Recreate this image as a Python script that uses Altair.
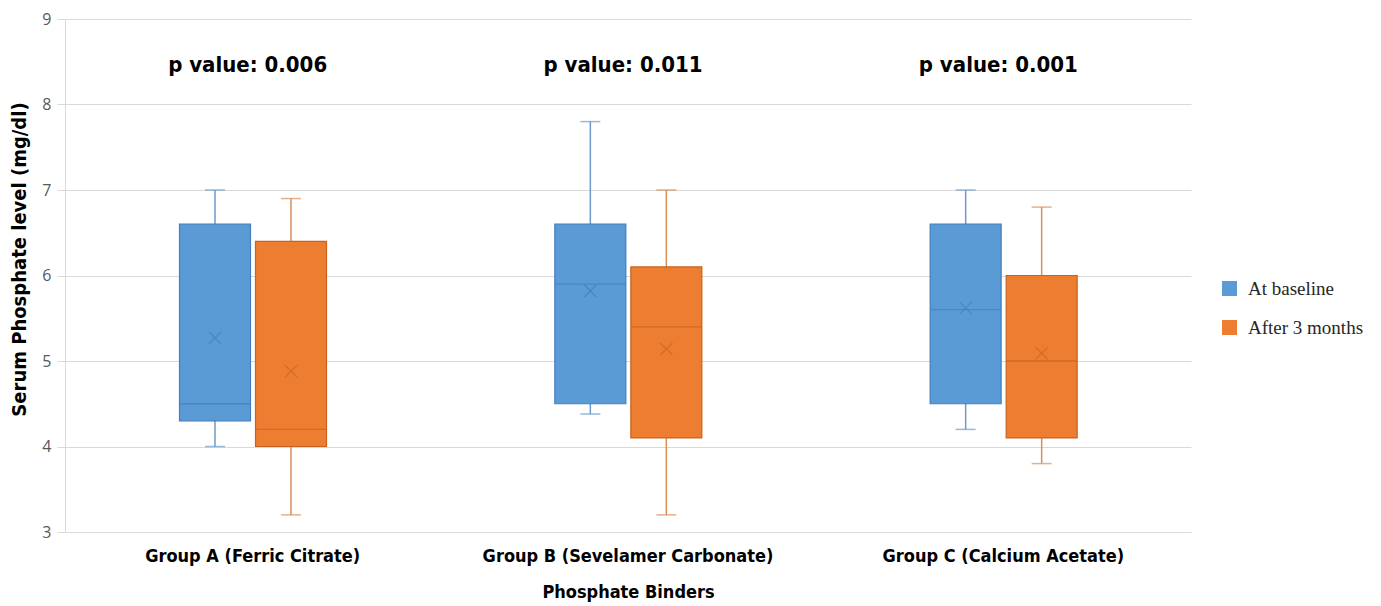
import altair as alt
import pandas as pd

groups = ["Group A (Ferric Citrate)", "Group B (Sevelamer Carbonate)", "Group C (Calcium Acetate)"]
series = ["At baseline", "After 3 months"]

low_base = [4.0, 4.38, 4.2]
q1_base = [4.3, 4.5, 4.5]
med_base = [4.5, 5.9, 5.6]
q3_base = [6.6, 6.6, 6.6]
high_base = [7.0, 7.8, 7.0]
mean_base = [5.27, 5.82, 5.62]

low_after = [3.2, 3.2, 3.8]
q1_after = [4.0, 4.1, 4.1]
med_after = [4.2, 5.4, 5.0]
q3_after = [6.4, 6.1, 6.0]
high_after = [6.9, 7.0, 6.8]
mean_after = [4.88, 5.14, 5.09]

p_values = ["p value: 0.006", "p value: 0.011", "p value: 0.001"]

rows = []
for i, g in enumerate(groups):
    rows.append(dict(group=g, series=series[0], low=low_base[i], q1=q1_base[i], med=med_base[i],
                     q3=q3_base[i], high=high_base[i], mean=mean_base[i]))
    rows.append(dict(group=g, series=series[1], low=low_after[i], q1=q1_after[i], med=med_after[i],
                     q3=q3_after[i], high=high_after[i], mean=mean_after[i]))
df = pd.DataFrame(rows)
pdf = pd.DataFrame({"group": groups, "label": p_values})

BOLD = "DejaVu Sans Condensed"
fill_colors = ["#5B9BD5", "#ED7D31"]
dark_colors = ["#3F7FBF", "#C9621E"]
whisk_colors = ["#6B9ACB", "#DA8F5A"]

x_enc = alt.X("group:N", sort=groups,
              scale=alt.Scale(paddingInner=0, paddingOuter=0),
              axis=alt.Axis(title="Phosphate Binders", labelAngle=0, labelFont=BOLD,
                            labelFontWeight="bold", labelFontSize=18, labelColor="#000000",
                            labelLimit=0,
                            titleFont=BOLD, titleFontWeight="bold", titleFontSize=18,
                            titleColor="#000000", titlePadding=18, labelPadding=15,
                            ticks=False, domainColor="#d9d9d9", grid=False))
xo = alt.XOffset("series:N", sort=series,
                 scale=alt.Scale(range=[114.5, 261.5], paddingInner=0.066, paddingOuter=0))
y_scale = alt.Scale(domain=[3, 9], nice=False, zero=False)
y_axis = alt.Axis(title="Serum Phosphate level (mg/dl)", values=[3, 4, 5, 6, 7, 8, 9], format="d",
                  labelFont="Open Sans", labelFontSize=16, labelColor="#595959",
                  titleFont=BOLD, titleFontWeight="bold", titleFontSize=20, titleColor="#000000",
                  gridColor="#d9d9d9", domainColor="#d9d9d9", tickColor="#d9d9d9",
                  tickSize=8, labelPadding=6, titlePadding=12, titleY=240)

base = alt.Chart(df)

whisk = base.mark_rule(strokeWidth=1.5).encode(
    x=x_enc, xOffset=xo,
    y=alt.Y("low:Q", scale=y_scale, axis=y_axis), y2="high:Q",
    color=alt.Color("series:N", sort=series, scale=alt.Scale(domain=series, range=whisk_colors), legend=None),
)
caps_hi = base.mark_tick(size=20, thickness=1.5, orient="horizontal").encode(
    x=x_enc, xOffset=xo, y=alt.Y("high:Q", scale=y_scale),
    color=alt.Color("series:N", sort=series, scale=alt.Scale(domain=series, range=whisk_colors), legend=None),
)
caps_lo = base.mark_tick(size=20, thickness=1.5, orient="horizontal").encode(
    x=x_enc, xOffset=xo, y=alt.Y("low:Q", scale=y_scale),
    color=alt.Color("series:N", sort=series, scale=alt.Scale(domain=series, range=whisk_colors), legend=None),
)
boxes = base.mark_bar(strokeWidth=1.2).encode(
    x=x_enc, xOffset=xo,
    y=alt.Y("q1:Q", scale=y_scale), y2="q3:Q",
    color=alt.Color("series:N", sort=series, scale=alt.Scale(domain=series, range=fill_colors),
                    legend=alt.Legend(title=None, orient="none", legendX=1155, legendY=260,
                                      symbolType="square", symbolSize=225, symbolStrokeWidth=0,
                                      labelFont="Liberation Serif", labelFontSize=19,
                                      labelColor="#262626", rowPadding=19, labelOffset=9)),
    stroke=alt.Stroke("series:N", sort=series, scale=alt.Scale(domain=series, range=dark_colors), legend=None),
)
medians = base.mark_tick(thickness=1.3, size=70, orient="horizontal").encode(
    x=x_enc, xOffset=xo, y=alt.Y("med:Q", scale=y_scale),
    color=alt.Color("series:N", sort=series, scale=alt.Scale(domain=series, range=dark_colors), legend=None),
)
means = base.mark_point(shape="M-1,-1L1,1M-1,1L1,-1", size=150, filled=False, strokeWidth=1.2).encode(
    x=x_enc, xOffset=xo, y=alt.Y("mean:Q", scale=y_scale),
    color=alt.Color("series:N", sort=series, scale=alt.Scale(domain=series, range=dark_colors), legend=None),
)
ptext = alt.Chart(pdf).mark_text(font=BOLD, fontWeight="bold", fontSize=22, color="#000000",
                                 baseline="middle", align="center", dx=-5).encode(
    x=alt.X("group:N", sort=groups), y=alt.value(46), text="label:N")

chart = alt.layer(whisk, caps_hi, caps_lo, boxes, medians, means, ptext).resolve_scale(
    color="independent", stroke="independent"
).properties(width=1126, height=513, padding={"left": 1, "top": 3, "right": 5, "bottom": 5},
             background="white").configure_view(stroke="transparent", strokeWidth=0)

chart.save("out.html", embed_options={"renderer": "svg", "actions": False})
